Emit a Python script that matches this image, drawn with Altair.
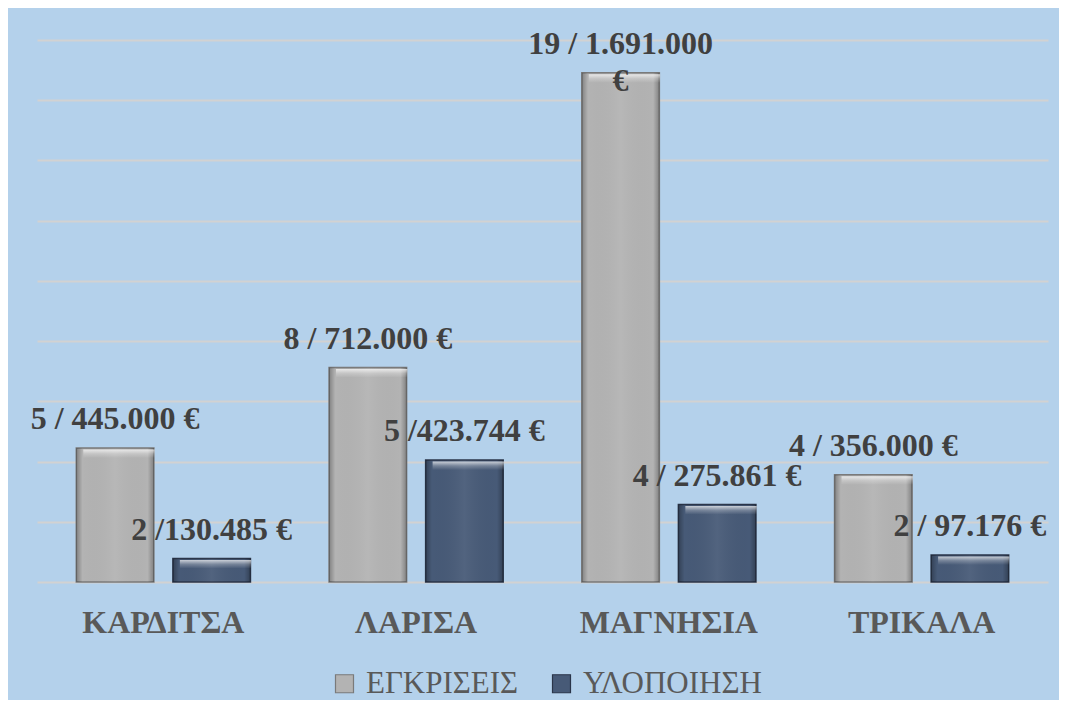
import altair as alt
import pandas as pd

# ---- data ----
regions = ["ΚΑΡΔΙΤΣΑ", "ΛΑΡΙΣΑ", "ΜΑΓΝΗΣΙΑ", "ΤΡΙΚΑΛΑ"]
series = ["ΕΓΚΡΙΣΕΙΣ", "ΥΛΟΠΟΙΗΣΗ"]
approvals = [445000, 712000, 1691000, 356000]
implementation = [78000, 405000, 257000, 90000]
approval_labels = ["5 / 445.000 €", "8 / 712.000 €", "19 / 1.691.000\n€", "4 / 356.000 €"]
implementation_labels = ["2 /130.485 €", "5 /423.744 €", "4 / 275.861 €", "2 / 97.176  €"]
grid_values = [0, 200000, 400000, 600000, 800000, 1000000, 1200000, 1400000, 1600000, 1800000]

rows = []
for r, v, t in zip(regions, approvals, approval_labels):
    rows.append({"region": r, "series": series[0], "value": v, "label": t})
for r, v, t in zip(regions, implementation, implementation_labels):
    rows.append({"region": r, "series": series[1], "value": v, "label": t})
df = pd.DataFrame(rows)

SERIF = "Liberation Serif"

x = alt.X(
    "region:N",
    sort=regions,
    scale=alt.Scale(paddingInner=0.311, paddingOuter=0.1555),
    axis=alt.Axis(
        title=None, ticks=False, domain=False, grid=False,
        labelFont=SERIF, labelFontWeight="bold", labelFontSize=32,
        labelColor="#595959", labelAngle=0, labelBaseline="alphabetic",
        labelPadding=50,
    ),
)
xo = alt.XOffset("series:N", sort=series, scale=alt.Scale(paddingInner=0.197, paddingOuter=0))
y = alt.Y(
    "value:Q",
    scale=alt.Scale(domain=[0, 1800000], nice=False),
    axis=alt.Axis(
        title=None, labels=False, ticks=False, domain=False,
        values=grid_values, grid=True, gridColor="#D2D2D2", gridWidth=2,
    ),
)

legend = alt.Legend(
    title=None, orient="none", legendX=292, legendY=628, direction="horizontal",
    symbolType="square", symbolSize=324, symbolStrokeWidth=1.2,
    symbolStrokeColor="#4A4A4A",
    labelFont=SERIF, labelFontSize=31,
    labelColor="#595959", labelLimit=400,
    labelOffset=6, columnPadding=27,
)

bars = alt.Chart(df).mark_bar(strokeWidth=1.5).encode(
    x=x, xOffset=xo, y=y,
    color=alt.Color("series:N", sort=series,
                    scale=alt.Scale(domain=series, range=["#B3B3B3", "#475A77"]),
                    legend=legend),
    stroke=alt.Stroke("series:N", sort=series,
                      scale=alt.Scale(domain=series, range=["#7A7A7A", "#2A3549"]),
                      legend=None),
)

shade = alt.Chart(df).mark_bar(
    color=alt.Gradient(
        gradient="linear", x1=0, x2=1, y1=0, y2=0,
        stops=[
            alt.GradientStop(color="rgba(0,0,0,0.28)", offset=0),
            alt.GradientStop(color="rgba(0,0,0,0)", offset=0.08),
            alt.GradientStop(color="rgba(255,255,255,0.06)", offset=0.5),
            alt.GradientStop(color="rgba(0,0,0,0)", offset=0.92),
            alt.GradientStop(color="rgba(0,0,0,0.28)", offset=1),
        ],
    )
).encode(x=x, xOffset=xo, y=y)

highlight = alt.Chart(df).mark_bar(
    yOffset=1.5, y2Offset=10,
    width=alt.RelativeBandSize(0.92),
    color=alt.Gradient(
        gradient="linear", x1=0, x2=0, y1=0, y2=1,
        stops=[
            alt.GradientStop(color="rgba(255,255,255,0.7)", offset=0),
            alt.GradientStop(color="rgba(255,255,255,0.25)", offset=0.5),
            alt.GradientStop(color="rgba(255,255,255,0)", offset=1),
        ],
    ),
).encode(x=x, xOffset=xo, y=y, y2=alt.Y2("value:Q"))

labels = alt.Chart(df).mark_text(
    font=SERIF, fontWeight="bold", fontSize=32, color="#404040",
    baseline="alphabetic", align="center", dy=-19, lineBreak="\n", lineHeight=37,
).encode(x=x, xOffset=xo, y=y, text="label:N")

chart = (
    alt.layer(bars, shade, highlight, labels)
    .properties(
        width=1011, height=542,
        autosize=alt.AutoSizeParams(type="none"),
        padding={"left": 29, "top": 32, "right": 11, "bottom": 118},
        background="#B4D1EB",
    )
    .configure_view(stroke=None)
    .configure_legend(labelFont=SERIF, labelFontSize=31, labelColor="#595959", labelLimit=400)
)

chart.save("out.html", embed_options={"renderer": "svg", "actions": False})
